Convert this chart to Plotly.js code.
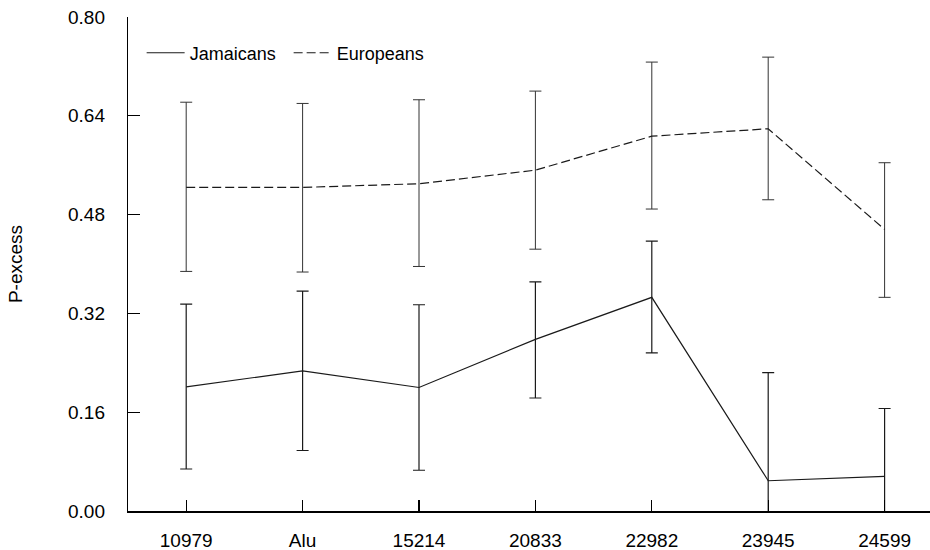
<!DOCTYPE html>
<html>
<head>
<meta charset="utf-8">
<script src="https://cdn.plot.ly/plotly-3.0.1.min.js"></script>
<style>html,body{margin:0;padding:0;background:#fff;}#chart{width:930px;height:550px;}</style>
</head>
<body>
<div id="chart"></div>
<script>
var categories = ["10979", "Alu", "15214", "20833", "22982", "23945", "24599"];
var jamaicans = [0.201, 0.227, 0.200, 0.278, 0.346, 0.049, 0.056];
var jamaicansUpper = [0.335, 0.356, 0.334, 0.371, 0.437, 0.224, 0.166];
var jamaicansLower = [0.068, 0.098, 0.066, 0.183, 0.256, -0.126, -0.055];
var europeans = [0.524, 0.524, 0.530, 0.552, 0.607, 0.619, 0.456];
var europeansUpper = [0.662, 0.660, 0.666, 0.680, 0.727, 0.735, 0.564];
var europeansLower = [0.388, 0.387, 0.396, 0.424, 0.489, 0.504, 0.346];
var yTicks = [0.00, 0.16, 0.32, 0.48, 0.64, 0.80];

var idx = categories.map(function(c, i){ return i; });
function diff(a, b){ return a.map(function(v, i){ return +(v - b[i]).toFixed(4); }); }

var fontFam = "Liberation Sans, Arial, Helvetica, sans-serif";

var traces = [
  {
    x: idx, y: jamaicans, name: "Jamaicans", type: "scatter", mode: "lines",
    line: {color: "#1a1a1a", width: 1.2},
    error_y: {type: "data", symmetric: false,
      array: diff(jamaicansUpper, jamaicans), arrayminus: diff(jamaicans, jamaicansLower),
      color: "#1a1a1a", thickness: 1.2, width: 6},
    cliponaxis: true
  },
  {
    x: idx, y: europeans, name: "Europeans", type: "scatter", mode: "lines",
    line: {color: "#1a1a1a", width: 1.2, dash: "9px,4px"},
    error_y: {type: "data", symmetric: false,
      array: diff(europeansUpper, europeans), arrayminus: diff(europeans, europeansLower),
      color: "#333", thickness: 1, width: 6},
    cliponaxis: true
  }
];

var layout = {
  width: 930, height: 550,
  margin: {l: 128, r: 0, t: 17, b: 39},
  paper_bgcolor: "#fff", plot_bgcolor: "#fff",
  font: {family: fontFam, size: 19, color: "#000"},
  showlegend: true,
  legend: {orientation: "h", x: 0.017, y: 0.927, xanchor: "left", yanchor: "middle",
    itemwidth: 38, entrywidth: 94, entrywidthmode: "pixels",
    bgcolor: "rgba(0,0,0,0)", font: {size: 18, family: fontFam, color: "#000"}},
  xaxis: {
    range: [-0.5, 6.39], tickvals: idx, ticktext: categories,
    showgrid: false, zeroline: false, showline: true, linecolor: "#000", linewidth: 1.5,
    ticks: "inside", ticklen: 11, tickwidth: 1.2, tickcolor: "#000",
    ticklabelstandoff: 12, tickfont: {size: 19}
  },
  yaxis: {
    range: [0, 0.8], tickvals: yTicks, ticktext: yTicks.map(function(v){ return v.toFixed(2); }),
    showgrid: false, zeroline: false, showline: true, linecolor: "#000", linewidth: 1.2,
    ticks: "inside", ticklen: 12, tickwidth: 1.2, tickcolor: "#000",
    ticklabelstandoff: 18, tickfont: {size: 19},
    title: {text: "P-excess", font: {size: 19}, standoff: 40}
  }
};

Plotly.newPlot("chart", traces, layout, {staticPlot: true, displayModeBar: false});
</script>
</body>
</html>
